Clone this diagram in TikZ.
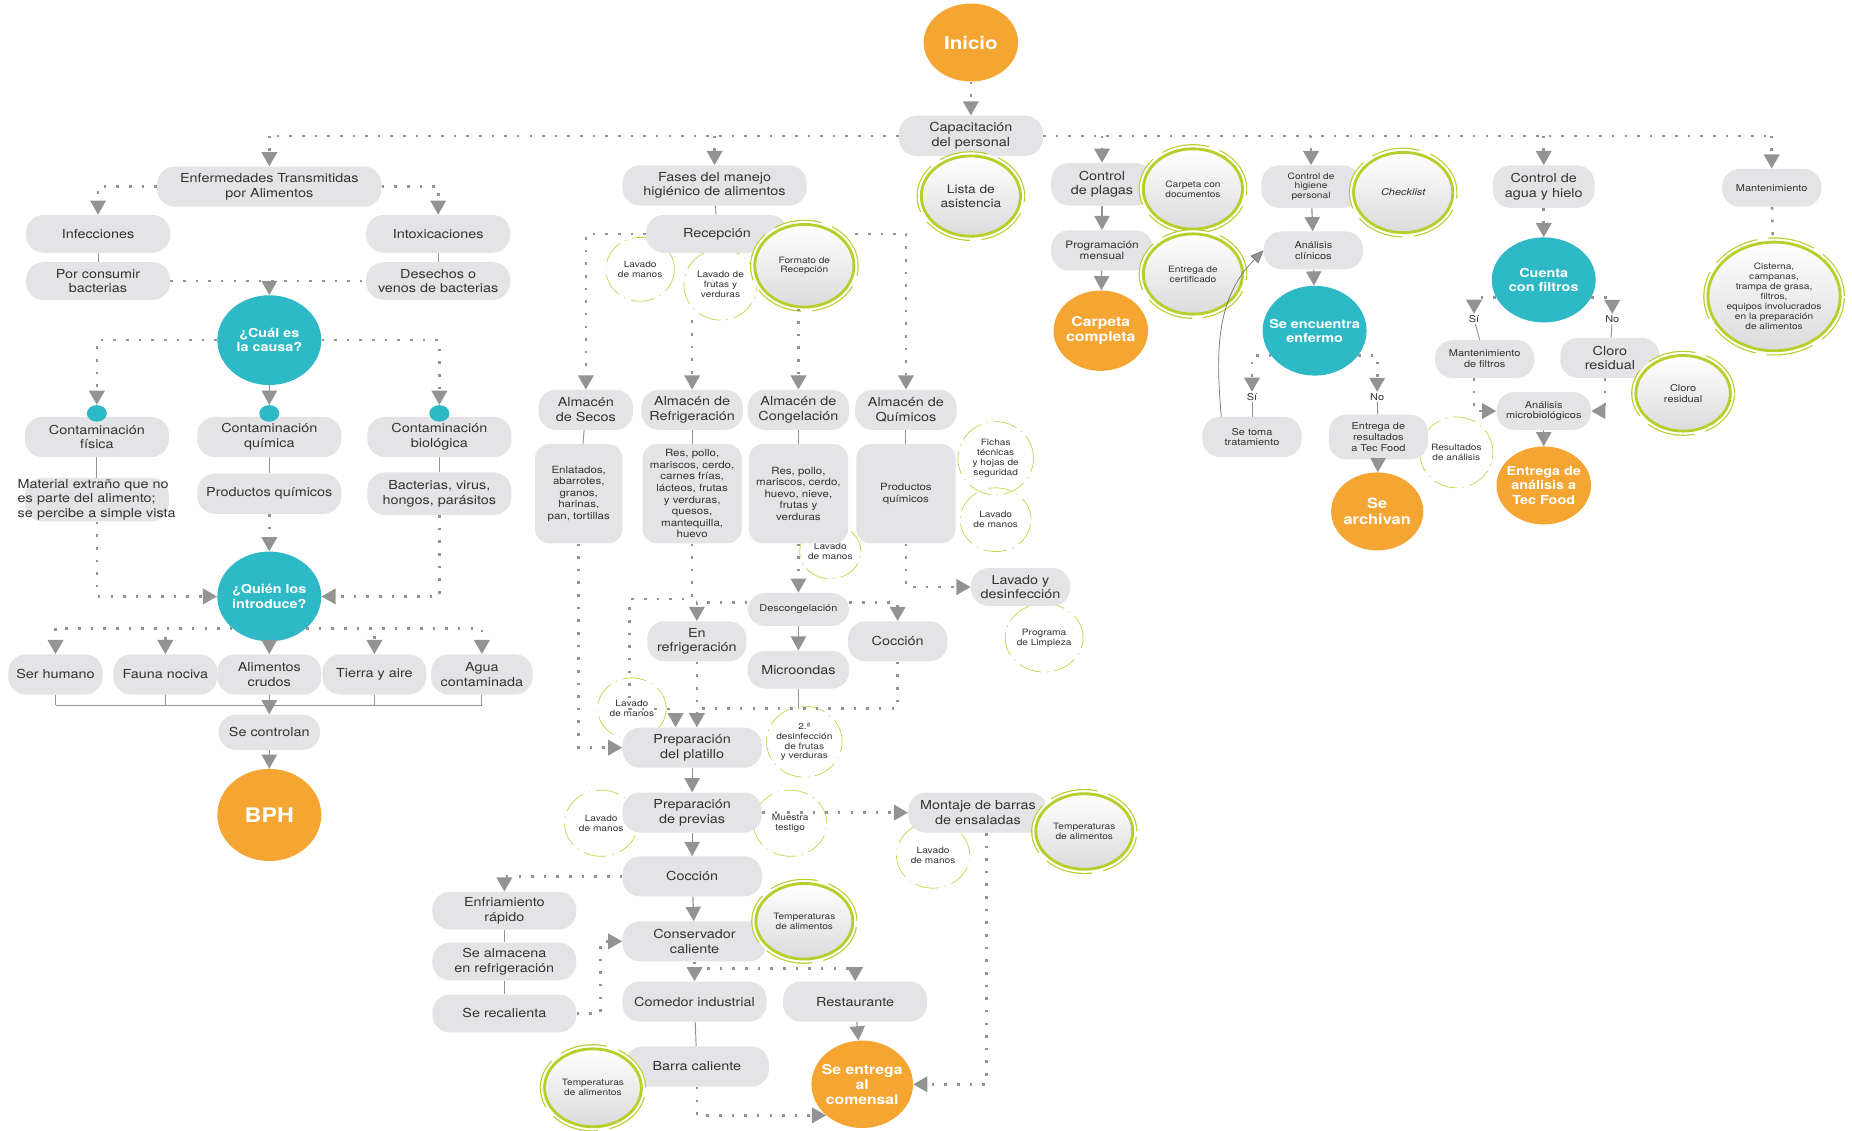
\documentclass[tikz,border=0pt]{standalone}
\usepackage{fontspec}
\setmainfont{TeX Gyre Heros}[FakeStretch=1.16]
\usetikzlibrary{arrows.meta,shapes.geometric}

\definecolor{pillgray}{HTML}{E4E4E6}
\definecolor{txtgray}{HTML}{333333}
\definecolor{arrgray}{HTML}{939393}
\definecolor{orangeC}{HTML}{F5A531}
\definecolor{tealC}{HTML}{2DB9C6}
\definecolor{ringgreen}{HTML}{B8CE2A}

\newcommand{\fpill}{\fontsize{10.5}{12.5}\selectfont}
\newcommand{\fsmall}{\fontsize{8}{9.2}\selectfont}
\newcommand{\fmini}{\fontsize{7.4}{8.4}\selectfont}
\newcommand{\fboxt}{\fontsize{8.4}{9.8}\selectfont}
\newcommand{\fcirc}{\fontsize{10.5}{12}\selectfont\bfseries}

\tikzset{
  wd/.style={minimum width=#1pt},
  ht/.style={minimum height=#1pt},
  sz/.style 2 args={minimum width=#1pt,minimum height=#2pt},
  pill/.style={rectangle, rounded corners=15pt, fill=pillgray, text=txtgray,
    align=center, inner sep=1pt, minimum height=34pt, font=\fpill},
  tallbox/.style={pill, rounded corners=12pt, minimum height=84pt, font=\fboxt},
  dring/.style={ellipse, draw=ringgreen!85, line width=0.6pt,
    dash pattern=on 20pt off 5pt on 1pt off 5pt, text=txtgray, align=center,
    inner ysep=0pt, inner xsep=-5pt, font=\fmini},
  ring/.style={ellipse, draw=ringgreen, line width=2.4pt, top color=white,
    bottom color=black!14, text=txtgray, align=center, font=\fmini,
    inner ysep=0pt, inner xsep=-4pt,
    preaction={draw=ringgreen, line width=8pt, dash pattern=on 38pt off 9pt},
    preaction={draw=white, line width=6pt}},
  ocirc/.style={ellipse, fill=orangeC, text=white, align=center, inner ysep=0pt,
    inner xsep=-8pt, font=\fcirc},
  tcirc/.style={ellipse, fill=tealC, text=white, align=center, inner ysep=0pt,
    inner xsep=-8pt, font=\fcirc},
  tdot/.style={ellipse, fill=tealC, minimum width=17pt, minimum height=14pt, inner sep=0pt},
  lbl/.style={text=txtgray, font=\fsmall, inner sep=1pt},
  arr/.style={-{Triangle[width=13pt,length=12pt]}},
  dots/.style={draw=arrgray, line width=2.2pt, dash pattern=on 2.2pt off 8.5pt},
  sarr/.style={draw=arrgray, line width=1pt, arr},
  sline/.style={draw=arrgray, line width=0.8pt},
  curv/.style={draw=black!55, line width=0.6pt, -{Triangle[width=9pt,length=11pt,fill=arrgray]}}
}

\begin{document}
\begin{tikzpicture}[x=1pt,y=-1pt]
\fill[white] (0,0) rectangle (1568,957);
\useasboundingbox (0,0) rectangle (1568,957);

% dashed notes, behind the boxes
\node[dring,sz={58}{54}] (lavM1) at (542,228) {Lavado\\de manos};
\node[dring,sz={62}{60}] (frutas) at (610,241) {Lavado de\\frutas y\\verduras};
\node[dring,sz={64}{62}] (fichas) at (843,388) {Fichas\\técnicas\\y hojas de\\seguridad};
\node[dring,sz={60}{54}] (lavM2) at (843,440) {Lavado\\de manos};
\node[dring,sz={52}{46}] (lavM3) at (703,467) {Lavado\\de manos};
\node[dring,sz={66}{58}] (progLimp) at (884,540) {Programa\\de Limpieza};
\node[dring,sz={58}{52}] (lavM4) at (535,600) {Lavado\\de manos};
\node[dring,sz={64}{60}] (desinf2) at (681,628) {2.ª\\desinfección\\de frutas\\y verduras};
\node[dring,sz={62}{56}] (lavM5) at (509,697) {Lavado\\de manos};
\node[dring,sz={62}{56}] (muestra) at (669,697) {Muestra\\testigo};
\node[dring,sz={62}{56}] (lavM6) at (790,724) {Lavado\\de manos};
\node[dring,sz={62}{60}] (resAn) at (1233,383) {Resultados\\de análisis};

% top
\node[ocirc,sz={80}{66},font=\fontsize{15}{17}\selectfont\bfseries] (inicio) at (822,36) {Inicio};
\node[pill,wd=122] (cap) at (822,115) {Capacitación\\del personal};

% left column
\node[pill,wd=190] (eta) at (228,158) {Enfermedades Transmitidas\\por Alimentos};
\node[pill,wd=122,ht=32] (infec) at (83,198) {Infecciones};
\node[pill,wd=122,ht=32] (intox) at (371,198) {Intoxicaciones};
\node[pill,wd=122,ht=32] (porcons) at (83,238) {Por consumir\\bacterias};
\node[pill,wd=122,ht=32] (desech) at (371,238) {Desechos o\\venos de bacterias};
\node[tcirc,sz={88}{76}] (cual) at (228,288) {¿Cuál es\\la causa?};
\node[pill,wd=122] (contF) at (82,370) {Contaminación\\física};
\node[pill,wd=122] (contQ) at (228,370) {Contaminación\\química};
\node[pill,wd=122] (contB) at (372,370) {Contaminación\\biológica};
\node[tdot] (dotF) at (82,350) {};
\node[tdot] (dotQ) at (228,350) {};
\node[tdot] (dotB) at (372,350) {};
\node[pill,wd=122,text width=134pt,inner xsep=-6pt,align=left] (matF) at (82,423)
  {Material extraño que no\\es parte del alimento;\\se percibe a simple vista};
\node[pill,wd=122] (prodQ) at (228,418) {Productos químicos};
\node[pill,wd=122,ht=36] (bact) at (372,418) {Bacterias, virus,\\hongos, parásitos};
\node[tcirc,sz={88}{76}] (quien) at (228,505) {¿Quién los\\introduce?};
\node[pill,wd=80] (serh) at (47,571) {Ser humano};
\node[pill,wd=88] (fauna) at (140,571) {Fauna nociva};
\node[pill,wd=88] (alim) at (228,571) {Alimentos\\crudos};
\node[pill,wd=88] (tierra) at (317,571) {Tierra y aire};
\node[pill,wd=86] (aguaC) at (408,571) {Agua\\contaminada};
\coordinate (brk) at (228,597);
\node[pill,wd=86,ht=30] (secontrol) at (228,620) {Se controlan};
\node[ocirc,sz={88}{78},font=\fontsize{17}{19}\selectfont\bfseries] (bph) at (228,690) {BPH};

% middle column
\node[pill,wd=156] (fases) at (605,157) {Fases del manejo\\higiénico de alimentos};
\node[pill,wd=120,ht=32] (recep) at (607,198) {Recepción};
\node[pill,wd=80] (alSecos) at (496,347) {Almacén\\de Secos};
\node[pill,wd=86] (alRefr) at (586,347) {Almacén de\\Refrigeración};
\node[pill,wd=86] (alCong) at (676,347) {Almacén de\\Congelación};
\node[pill,wd=86] (alQuim) at (767,347) {Almacén de\\Químicos};
\node[tallbox,wd=74] (bxSecos) at (490,418) {Enlatados,\\abarrotes,\\granos,\\harinas,\\pan, tortillas};
\node[tallbox,wd=84] (bxRefr) at (586,418) {Res, pollo,\\mariscos, cerdo,\\carnes frías,\\lácteos, frutas\\y verduras,\\quesos,\\mantequilla,\\huevo};
\node[tallbox,wd=84] (bxCong) at (676,418) {Res, pollo,\\mariscos, cerdo,\\huevo, nieve,\\frutas y\\verduras};
\node[tallbox,wd=84] (bxQuim) at (767,418) {Productos\\químicos};
\node[pill,wd=84,ht=32] (lavDes) at (864,497) {Lavado y\\desinfección};
\node[pill,wd=86,ht=28,font=\fsmall] (descong) at (676,516) {Descongelación};
\node[pill,wd=84] (enRefr) at (590,543) {En\\refrigeración};
\node[pill,wd=84] (coccA) at (760,543) {Cocción};
\node[pill,wd=86,ht=32] (micro) at (676,567) {Microondas};
\coordinate (jn) at (590,600);
\node[pill,wd=118] (prepPl) at (586,633) {Preparación\\del platillo};
\node[pill,wd=118] (prepPrev) at (586,688) {Preparación\\de previas};
\node[pill,wd=118] (montaje) at (828,688) {Montaje de barras\\de ensaladas};
\node[pill,wd=118] (coccB) at (586,742) {Cocción};
\node[pill,wd=122,ht=32] (enfri) at (427,771) {Enfriamiento\\rápido};
\node[pill,wd=122,ht=32] (sealm) at (427,814) {Se almacena\\en refrigeración};
\node[pill,wd=122,ht=32] (serec) at (427,858) {Se recalienta};
\node[pill,wd=122] (conserv) at (588,797) {Conservador\\caliente};
\node[pill,wd=122] (comedor) at (588,848) {Comedor industrial};
\node[pill,wd=122] (rest) at (724,848) {Restaurante};
\node[pill,wd=122] (barra) at (590,903) {Barra caliente};
\node[ocirc,sz={86}{74},font=\fontsize{11.5}{12.5}\selectfont\bfseries] (entrega) at (730,918) {Se entrega\\al\\comensal};

% right columns
\node[pill,wd=86,ht=36] (plagas) at (933,156) {Control\\de plagas};
\node[pill,wd=86,font=\fontsize{8.6}{9.8}\selectfont] (progr) at (933,212) {Programación\\mensual};
\node[ocirc,sz={80}{68},font=\fontsize{11.5}{13}\selectfont\bfseries] (carpeta) at (932,280) {Carpeta\\completa};
\node[pill,wd=84,ht=36,font=\fmini] (higiene) at (1110,158) {Control de\\higiene\\personal};
\node[pill,wd=84,ht=32,font=\fsmall] (anclin) at (1112,212) {Análisis\\clínicos};
\node[tcirc,sz={88}{76}] (enfermo) at (1113,280) {Se encuentra\\enfermo};
\node[lbl] (si1) at (1060,336) {Sí};
\node[lbl] (no1) at (1166,336) {No};
\node[pill,wd=84,font=\fsmall] (setoma) at (1060,370) {Se toma\\tratamiento};
\node[pill,wd=84,ht=38,font=\fsmall] (entreg) at (1167,370) {Entrega de\\resultados\\a Tec Food};
\node[ocirc,sz={78}{66},font=\fontsize{12}{14}\selectfont\bfseries] (archivan) at (1166,433) {Se\\archivan};
\node[pill,wd=86,ht=36] (agua) at (1307,158) {Control de\\agua y hielo};
\node[tcirc,sz={88}{72}] (filtros) at (1307,237) {Cuenta\\con filtros};
\node[lbl] (si2) at (1248,270) {Sí};
\node[lbl] (no2) at (1365,270) {No};
\node[pill,wd=84,ht=32,font=\fsmall] (mantF) at (1257,304) {Mantenimiento\\de filtros};
\node[pill,wd=84] (cloro) at (1363,303) {Cloro\\residual};
\node[pill,wd=80,ht=32,font=\fsmall] (anmicro) at (1307,348) {Análisis\\microbiológicos};
\node[ocirc,sz={80}{66}] (entAn) at (1307,411) {Entrega de\\análisis a\\Tec Food};
\node[pill,wd=84,ht=32,font=\fsmall] (mant) at (1500,159) {Mantenimiento};

% green rings on top
\node[ring,sz={84}{68},font=\fontsize{10}{11.5}\selectfont] (lista) at (822,166) {Lista de\\asistencia};
\node[ring,sz={84}{70}] (formato) at (681,225) {Formato de\\Recepción};
\node[ring,sz={84}{68}] (carpDoc) at (1010,160) {Carpeta con\\documentos};
\node[ring,sz={84}{68}] (certif) at (1010,232) {Entrega de\\certificado};
\node[ring,sz={84}{68},font=\fsmall\itshape] (check) at (1188,163) {Checklist};
\node[ring,sz={80}{64},font=\fsmall] (cloroR) at (1425,333) {Cloro\\residual};
\node[ring,sz={112}{92}] (cisterna) at (1502,251) {Cisterna,\\campanas,\\trampa de grasa,\\filtros,\\equipos involucrados\\en la preparación\\de alimentos};
\node[ring,sz={82}{64}] (temp1) at (918,704) {Temperaturas\\de alimentos};
\node[ring,sz={82}{64}] (temp2) at (681,780) {Temperaturas\\de alimentos};
\node[ring,sz={82}{66}] (temp3) at (502,921) {Temperaturas\\de alimentos};

% trunk
\draw[dots,arr] (inicio) -- (cap);
\draw[dots] (cap.west) -- (cap.west -| eta.north);
\foreach \n in {eta,fases} \draw[dots,arr] (cap.west -| \n.north) -- (\n);
\draw[dots] (cap.east) -- (cap.east -| mant.north);
\foreach \n in {plagas,higiene,agua,mant} \draw[dots,arr] (cap.east -| \n.north) -- (\n);

% ETA
\draw[dots,arr] (eta.west) -| (infec);
\draw[dots,arr] (eta.east) -| (intox);
\draw[sline] (infec) -- (porcons);
\draw[sline] (intox) -- (desech);
\draw[dots] (porcons.east) -- (desech.west);
\draw[dots,arr] (porcons.east -| cual.north) -- (cual);
\draw[dots,arr] (cual.west) -| (dotF);
\draw[dots,arr] (cual.east) -| (dotB);
\draw[sarr] (cual) -- (dotQ);
\draw[sline] (contF) -- (matF);
\draw[sline] (contQ) -- (prodQ);
\draw[sline] (contB) -- (bact);
\draw[dots,arr] (matF.south) |- (quien);
\draw[dots,arr] (bact.south) |- (quien);
\draw[dots,arr] (prodQ) -- (quien);
\foreach \n in {serh,fauna} \draw[dots,arr] (quien.south west) -| (\n);
\foreach \n in {tierra,aguaC} \draw[dots,arr] (quien.south east) -| (\n);
\draw[sarr] (quien) -- (alim);
\foreach \n in {serh,fauna,alim,tierra,aguaC} \draw[sline] (\n.south) -- (\n.south |- brk);
\draw[sline] (serh.south |- brk) -- (aguaC.south |- brk);
\draw[sarr] (brk) -- (secontrol);
\draw[sarr] (secontrol) -- (bph);

% fases
\draw[sline] (fases) -- (recep);
\draw[dots,arr] (recep.west) -| (alSecos);
\draw[dots,arr] (formato.east |- recep) -| (alQuim);
\draw[dots,arr] (alRefr.north |- frutas.south) -- (alRefr);
\draw[dots,arr] (alCong.north |- formato.south) -- (alCong);
\draw[sline] (alSecos) -- (bxSecos);
\draw[sline] (alRefr) -- (bxRefr);
\draw[sline] (alCong) -- (bxCong);
\draw[sline] (alQuim) -- (bxQuim);
\draw[dots,arr] (bxQuim.south) |- (lavDes);
\draw[dots,arr] (bxCong.south) -- (descong);
\draw[dots,arr] ([yshift=6pt]descong.west) -| (enRefr);
\draw[dots,arr] ([yshift=6pt]descong.east) -| (coccA);
\draw[sarr] (descong) -- (micro);
\draw[dots,arr] (bxSecos.south) |- (prepPl);
\draw[dots,arr] (bxRefr.south) -- ++(0,47) -- ++(-53,0) -- ++(0,93) -- ++(39,0)
  -- ([xshift=-14pt]prepPl.north);
\draw[dots,arr] (enRefr.south) -- ([xshift=4pt]prepPl.north);
\draw[dots] (coccA.south) |- (jn);
\draw[sline] (micro.south) -- (micro.south |- jn);
\draw[sarr] (prepPl) -- (prepPrev);
\draw[dots,arr] (prepPrev.east) -- (montaje.west);
\draw[dots,arr] ([xshift=7pt]montaje.south) |- (entrega);
\draw[sarr] (prepPrev) -- (coccB);
\draw[dots,arr] (coccB.west) -| (enfri);
\draw[sline] (enfri) -- (sealm);
\draw[sline] (sealm) -- (serec);
\draw[dots,arr] (serec.east) -- ++(20,0) |- (conserv);
\draw[sarr] (coccB) -- (conserv);
\draw[dots,arr] (conserv.south) -- (comedor);
\draw[dots,arr] ([yshift=-6pt]conserv.south) -| (rest);
\draw[sarr] (rest) -- (entrega);
\draw[sline] (comedor) -- (barra);
\draw[dots,arr] (barra.south) |- (entrega.south west);

% plagas, higiene
\draw[sarr] (plagas) -- (progr);
\draw[sarr] (progr) -- (carpeta);
\draw[sarr] (higiene) -- (anclin);
\draw[sarr] (anclin) -- (enfermo);
\draw[dots,arr] (enfermo.-150) -| (si1);
\draw[dots,arr] (enfermo.-30) -| (no1);
\draw[sline] (si1) -- (setoma);
\draw[sline] (no1) -- (entreg);
\draw[curv] ([xshift=-26pt]setoma.north) to[out=95,in=-135] (anclin.west);
\draw[sarr] (entreg) -- (archivan);

% agua, mantenimiento
\draw[dots,arr] (agua) -- (filtros);
\draw[dots,arr] (filtros.-160) -| (si2);
\draw[dots,arr] (filtros.-20) -| (no2);
\draw[sline] (si2) -- (mantF);
\draw[sline] (no2) -- (cloro);
\draw[dots,arr] ([xshift=-9pt]mantF.south) |- (anmicro);
\draw[dots,arr] ([xshift=-4pt]cloro.south) |- (anmicro);
\draw[sarr] (anmicro) -- (entAn);
\draw[dots] (mant) -- (cisterna);
\end{tikzpicture}
\end{document}
